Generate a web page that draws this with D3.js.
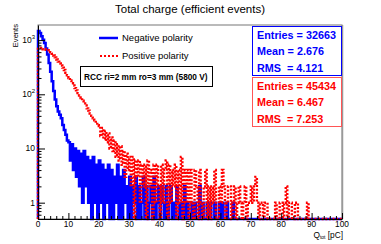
<!DOCTYPE html>
<html><head><meta charset="utf-8">
<script src="https://cdn.jsdelivr.net/npm/d3@7"></script>
<style>html,body{margin:0;padding:0;background:#fff;}svg{display:block;font-family:"Liberation Sans",Arial,sans-serif;}</style>
</head><body>
<svg id="c" width="381" height="244"></svg>
<script>
// bin width 0.5 pC, 200 bins from 0 to 100
const binWidth = 0.5;
const negativeCounts = [
1480,1350,1180,1020,880,700,540,380,260,175,115,80,60,48,42,36,27,22,18,14,
13,6,12,4,10,3,9,2,8,1,9,2,7,1,6,0,7,1,5,0,
6,1,5,0,4,1,5,0,4,0,3,1,5,0,3,0,4,1,2,0,
3,0,2,1,3,0,2,0,1,3,0,2,0,1,2,0,3,0,1,2,
0,2,1,0,2,0,1,2,0,1,0,2,1,0,1,0,2,0,1,0,
0,1,0,1,0,0,2,0,1,0,0,1,0,1,0,0,1,0,0,1,
0,1,0,0,1,0,0,0,1,0,0,0,0,0,0,0,0,0,0,0,
0,0,0,0,0,0,0,0,0,0,0,0,0,0,0,0,0,0,0,0,
0,0,0,0,0,0,0,0,0,0,0,0,0,0,0,0,0,0,0,0,
0,0,0,0,0,0,0,0,0,0,0,0,0,0,0,0,0,0,0,0
];
const positiveCounts = [
690,720,700,680,690,660,650,630,600,560,520,480,440,400,370,340,310,280,250,225,
200,180,160,145,130,118,105,95,85,76,68,62,55,50,44,40,36,33,30,27,
26,17,24,15,21,13,19,10,16,9,14,7,12,6,11,5,9,3,8,4,
7,2,7,0,6,3,6,1,5,2,5,0,6,2,4,0,5,1,5,2,
0,5,1,4,6,0,5,1,4,2,5,0,4,1,7,0,4,1,4,0,
4,1,0,4,2,0,4,1,0,2,4,0,2,0,2,1,4,0,0,2,
1,4,2,0,1,2,2,0,1,2,0,1,2,1,0,1,2,0,1,1,
2,1,2,3,1,0,1,1,0,1,1,0,0,0,0,0,1,0,0,1,
1,0,1,2,0,1,1,0,0,1,1,0,0,0,0,0,0,1,0,0,
0,0,0,0,0,0,0,0,0,0,0,0,0,0,0,0,0,0,0,0
];
const xTicks = [0,10,20,30,40,50,60,70,80,90,100];
const yMajorTicks = [1,10,100,1000];
const seriesNames = ["Negative polarity","Positive polarity"];
const statsNeg = ["Entries = 32663","Mean = 2.676","RMS  = 4.121"];
const statsPos = ["Entries = 45434","Mean = 6.467","RMS  = 7.253"];
const titleText = "Total charge (efficient events)";
const infoText = "RCC ri=2 mm ro=3 mm (5800 V)";

const svg = d3.select("#c");
const L=38,R=342,T=25,B=219;
const yMin=0.5,yMax=1900;
const x = d3.scaleLinear().domain([0,100]).range([L,R]);
const y = d3.scaleLog().domain([yMin,yMax]).range([B,T]);

// frame
svg.append("rect").attr("x",L).attr("y",T).attr("width",R-L).attr("height",B-T)
  .attr("fill","#fff").attr("stroke","#777").attr("stroke-width",1);
svg.append("line").attr("x1",R+0.5).attr("x2",R+0.5).attr("y1",T).attr("y2",B).attr("stroke","#999").attr("stroke-width",1.5);

function stepPoints(counts){
  const pts=[[0,yMin]];
  counts.forEach((v,i)=>{
    const vv = v>0? v : yMin;
    pts.push([i*binWidth,vv]); pts.push([(i+1)*binWidth,vv]);
  });
  pts.push([counts.length*binWidth,yMin]);
  return pts;
}
const line = d3.line().x(d=>x(d[0])).y(d=>y(d[1]));
const plot = svg.append("g");
plot.append("path").attr("d",line(stepPoints(negativeCounts)))
  .attr("fill","none").attr("stroke","#0000ff").attr("stroke-width",2.5).attr("stroke-linejoin","miter");
plot.append("path").attr("d",line(stepPoints(positiveCounts)))
  .attr("fill","none").attr("stroke","#ff0000").attr("stroke-width",2.4).attr("stroke-dasharray","2,1.6");

// x axis
const xMinor = d3.range(0,101,2).filter(v=>v%10!==0);
const gx = svg.append("g").attr("transform",`translate(0,${B})`);
gx.call(d3.axisBottom(x).tickValues(xMinor).tickSize(-3).tickFormat(""));
gx.call(g=>g.selectAll(".domain").remove());
const gx2 = svg.append("g").attr("transform",`translate(0,${B})`);
gx2.call(d3.axisBottom(x).tickValues(xTicks).tickSizeInner(-6).tickSizeOuter(0).tickFormat(""));
gx2.select(".domain").attr("stroke","#000");
svg.selectAll(".tick line").attr("stroke","#000");
xTicks.forEach(v=>{
  svg.append("text").attr("x",x(v)).attr("y",B+8.3).attr("text-anchor","middle").attr("font-size","8.3px").text(String(v));
});

// y axis
const yMinor=[];
[0.1,1,10,100,1000].forEach(d=>{for(let k=2;k<=9;k++){const v=d*k; if(v>=yMin&&v<=yMax) yMinor.push(v);}});
const gy = svg.append("g").attr("transform",`translate(${L},0)`);
gy.call(d3.axisLeft(y).tickValues(yMinor).tickSize(-3.5).tickFormat(""));
gy.call(g=>g.selectAll(".domain").remove());
const gy2 = svg.append("g").attr("transform",`translate(${L},0)`);
gy2.call(d3.axisLeft(y).tickValues(yMajorTicks).tickSizeInner(-7).tickSizeOuter(0).tickFormat(""));
gy2.select(".domain").attr("stroke","#000");
svg.selectAll(".tick line").attr("stroke","#000");
yMajorTicks.forEach(v=>{
  const t = svg.append("text").attr("y",y(v)+3).attr("font-size","8.5px").attr("text-anchor","end");
  if(v===1){t.attr("x",35).text("1");}
  else if(v===10){t.attr("x",35).text("10");}
  else {
    const e = Math.round(Math.log10(v));
    t.attr("x",35);
    t.append("tspan").text("10");
    t.append("tspan").attr("dy",-4).attr("font-size","6px").text(String(e));
  }
});

// axis titles
svg.append("text").attr("transform",`translate(17.5,${T-1}) rotate(-90)`).attr("text-anchor","end")
  .attr("font-size","7.6px").text("Events");
const xt = svg.append("text").attr("x",343).attr("y",237.5).attr("text-anchor","end").attr("font-size","8.3px");
xt.append("tspan").text("Q");
xt.append("tspan").attr("dy",1.5).attr("font-size","5px").text("tot");
xt.append("tspan").attr("dy",-1.5).text(" [pC]");

// title
svg.append("text").attr("x",190).attr("y",13).attr("text-anchor","middle").attr("font-size","11.5px").text(titleText);

// legend
const legY=[38,56];
svg.append("line").attr("x1",99).attr("x2",118).attr("y1",legY[0]).attr("y2",legY[0]).attr("stroke","#0000ff").attr("stroke-width",2.5);
svg.append("line").attr("x1",100).attr("x2",118).attr("y1",legY[1]).attr("y2",legY[1]).attr("stroke","#ff0000").attr("stroke-width",2.2).attr("stroke-dasharray","2,2");
seriesNames.forEach((n,i)=>{
  svg.append("text").attr("x",122).attr("y",legY[i]+3.4).attr("font-size","9.5px").text(n);
});

// info box
svg.append("rect").attr("x",80.5).attr("y",66.5).attr("width",132).attr("height",20).attr("fill","#fff").attr("stroke","#000").attr("stroke-width",1);
svg.append("text").attr("x",84).attr("y",79.5).attr("font-size","8.3px").attr("font-weight","bold").text(infoText);

// stats boxes
function stats(lines,top,col,border){
  svg.append("rect").attr("x",252.5).attr("y",top).attr("width",89).attr("height",49).attr("fill","#fff").attr("stroke",border).attr("stroke-width",1);
  lines.forEach((s,i)=>{
    svg.append("text").attr("x",257).attr("y",top+12.5+i*16.3).attr("font-size","10.8px").attr("font-weight","bold")
      .attr("fill",col).attr("xml:space","preserve").style("white-space","pre").text(s);
  });
}
stats(statsNeg,26.5,"#0000ff","#0000ff");
stats(statsPos,77.5,"#ff0000","#ff5555");
</script>
</body></html>
